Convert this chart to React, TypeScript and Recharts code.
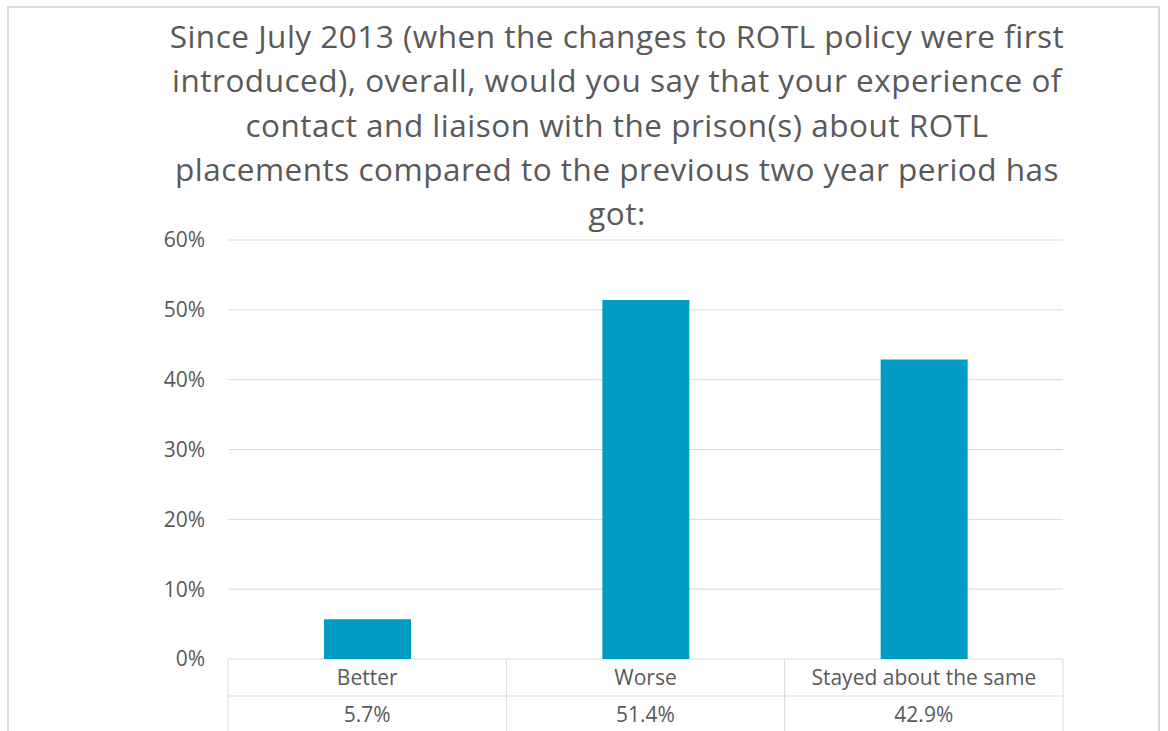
import { BarChart, Bar, XAxis, YAxis, CartesianGrid } from 'recharts'

const categories = ['Better', 'Worse', 'Stayed about the same']
const shares = [5.7, 51.4, 42.9]
const yTicks = [0, 10, 20, 30, 40, 50, 60]
const titleLines = [
  'Since July 2013 (when the changes to ROTL policy were first',
  'introduced), overall, would you say that your experience of',
  'contact and liaison with the prison(s) about ROTL',
  'placements compared to the previous two year period has',
  'got:',
]

const data = categories.map((name, i) => ({ name, value: shares[i] }))

const W = 1168
const H = 731
const LEFT = 228
const RIGHT = 105
const TABLE_H = 72
const TEXT = '#595959'
const LINE = '#d9d9d9'
const FONT = '"Open Sans", sans-serif'
const cellW = (W - LEFT - RIGHT) / categories.length

function TableTick(props: any) {
  const { x, y, payload, index } = props
  const left = x - cellW / 2
  const right = x + cellW / 2
  const pct = shares[index]
  return (
    <g>
      <line x1={left} y1={y} x2={left} y2={y + TABLE_H} stroke={LINE} />
      {index === categories.length - 1 && (
        <line x1={right} y1={y} x2={right} y2={y + TABLE_H} stroke={LINE} />
      )}
      <line x1={left} y1={y + 37} x2={right} y2={y + 37} stroke={LINE} />
      <text x={x} y={y + 26} textAnchor="middle" fill={TEXT} fontSize={21} fontFamily={FONT}>
        {payload.value}
      </text>
      <text x={x} y={y + 63} textAnchor="middle" fill={TEXT} fontSize={21} fontFamily={FONT}>
        {pct.toFixed(1)}%
      </text>
    </g>
  )
}

export default function App() {
  return (
    <div style={{ position: 'absolute', left: 0, top: 0, width: W, height: H, background: '#fff', overflow: 'hidden' }}>
      <div
        style={{
          position: 'absolute',
          left: 7,
          top: 6,
          width: 1149,
          height: H,
          borderTop: `2px solid ${LINE}`,
          borderLeft: `2px solid ${LINE}`,
          borderRight: `2px solid ${LINE}`,
        }}
      />
      <div
        style={{
          position: 'absolute',
          left: 67,
          top: 14,
          width: 1100,
          textAlign: 'center',
          color: TEXT,
          fontFamily: FONT,
          fontSize: 31.5,
          letterSpacing: 0.5,
          lineHeight: '44.3px',
        }}
      >
        {titleLines.map((t) => (
          <div key={t}>{t}</div>
        ))}
      </div>
      <div style={{ position: 'absolute', left: 0, top: 0 }}>
        <BarChart width={W} height={H} data={data} margin={{ top: 240, right: RIGHT, bottom: 0, left: 0 }}>
          <CartesianGrid vertical={false} stroke={LINE} />
          <XAxis
            dataKey="name"
            height={TABLE_H}
            axisLine={false}
            tickLine={false}
            tickSize={0}
            tickMargin={0}
            interval={0}
            tick={<TableTick />}
          />
          <YAxis
            width={LEFT}
            domain={[0, 60]}
            ticks={yTicks}
            tickFormatter={(v) => `${v}%`}
            axisLine={false}
            tickLine={false}
            tickSize={0}
            tickMargin={23}
            tick={{ fill: TEXT, fontSize: 21, fontFamily: FONT }}
          />
          <Bar dataKey="value" fill="#009cc4" barSize={87} isAnimationActive={false} />
        </BarChart>
      </div>
    </div>
  )
}
